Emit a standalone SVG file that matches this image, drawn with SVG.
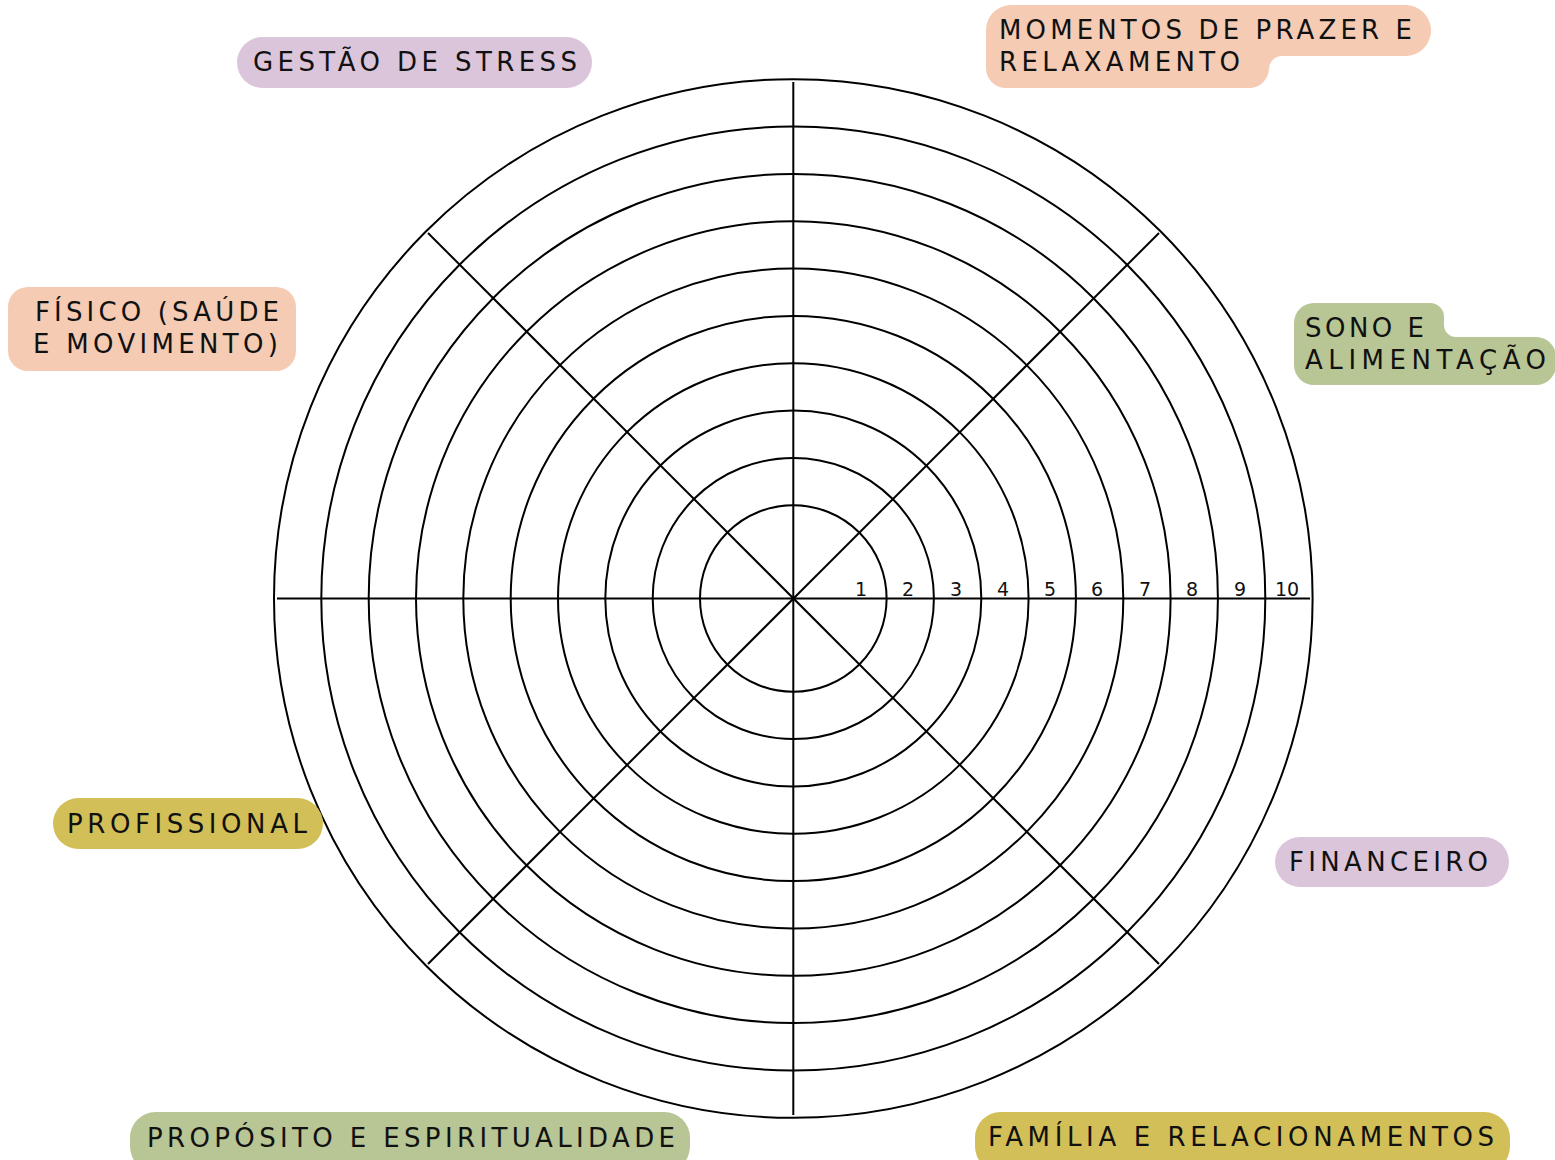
<svg xmlns="http://www.w3.org/2000/svg" width="1555" height="1160" viewBox="0 0 1555 1160">
<style>
.ring{fill:none;stroke:#000;stroke-width:2}
.spoke{stroke:#000;stroke-width:2}
.lbl{font-family:"DejaVu Sans","Noto Sans",sans-serif;font-size:26px;fill:#111;letter-spacing:3px}
.num{font-family:"DejaVu Sans","Noto Sans",sans-serif;font-size:19px;fill:#111;text-anchor:middle}
.peach{fill:#F5CBB3}
.lav{fill:#DBC5DA}
.green{fill:#B8C594}
.mustard{fill:#D3BF57}
</style>
<rect width="1555" height="1160" fill="#fff"/>
<g id="wheel">
<circle class="ring" cx="793.3" cy="598.5" r="93.3"/>
<circle class="ring" cx="793.3" cy="598.5" r="140.6"/>
<circle class="ring" cx="793.3" cy="598.5" r="188"/>
<circle class="ring" cx="793.3" cy="598.5" r="235.3"/>
<circle class="ring" cx="793.3" cy="598.5" r="282.6"/>
<circle class="ring" cx="793.3" cy="598.5" r="330"/>
<circle class="ring" cx="793.3" cy="598.5" r="377.3"/>
<circle class="ring" cx="793.3" cy="598.5" r="424.6"/>
<circle class="ring" cx="793.3" cy="598.5" r="472"/>
<circle class="ring" cx="793.3" cy="598.5" r="519.3"/>
</g>
<g id="connectors">
<line class="spoke" x1="793.3" y1="82" x2="793.3" y2="1115"/>
<line class="spoke" x1="277" y1="598.5" x2="1310" y2="598.5"/>
<line class="spoke" x1="428" y1="233" x2="1159" y2="964"/>
<line class="spoke" x1="1159" y1="233" x2="428" y2="964"/>
</g>
<g id="scale">
<text class="num" x="861" y="596">1</text>
<text class="num" x="908" y="596">2</text>
<text class="num" x="956" y="596">3</text>
<text class="num" x="1003" y="596">4</text>
<text class="num" x="1050" y="596">5</text>
<text class="num" x="1097" y="596">6</text>
<text class="num" x="1145" y="596">7</text>
<text class="num" x="1192" y="596">8</text>
<text class="num" x="1240" y="596">9</text>
<text class="num" x="1287" y="596">10</text>
</g>
<g id="gestao">
<rect class="lav" x="237" y="37" width="355" height="51" rx="25.5"/>
<text class="lbl" x="253" y="71" textLength="327" lengthAdjust="spacing">GESTÃO DE STRESS</text>
</g>
<g id="momentos">
<path class="peach" d="M1011 5 H1405.5 A25.5 25.5 0 0 1 1405.5 56 H1282 A13 13 0 0 0 1269 69 V68 A20 20 0 0 1 1249 88 H1006 A20 20 0 0 1 986 68 V30 A25 25 0 0 1 1011 5 Z"/>
<text class="lbl" x="999" y="39" textLength="416" lengthAdjust="spacing">MOMENTOS DE PRAZER E</text>
<text class="lbl" x="999" y="71" textLength="244" lengthAdjust="spacing">RELAXAMENTO</text>
</g>
<g id="fisico">
<rect class="peach" x="8" y="287" width="288" height="84" rx="20"/>
<text class="lbl" x="35" y="321" textLength="247" lengthAdjust="spacing">FÍSICO (SAÚDE</text>
<text class="lbl" x="33" y="353" textLength="248" lengthAdjust="spacing">E MOVIMENTO)</text>
</g>
<g id="sono">
<path class="green" d="M1314 303 H1430 A14 14 0 0 1 1444 317 V325 A12 12 0 0 0 1456 337 H1536 A20 20 0 0 1 1556 357 V365 A20 20 0 0 1 1536 385 H1314 A20 20 0 0 1 1294 365 V323 A20 20 0 0 1 1314 303 Z"/>
<text class="lbl" x="1305" y="337" textLength="122" lengthAdjust="spacing">SONO E</text>
<text class="lbl" x="1305" y="369" textLength="244" lengthAdjust="spacing">ALIMENTAÇÃO</text>
</g>
<g id="profissional">
<rect class="mustard" x="53" y="798" width="270" height="51" rx="25.5"/>
<text class="lbl" x="67" y="833" textLength="243" lengthAdjust="spacing">PROFISSIONAL</text>
</g>
<g id="financeiro">
<rect class="lav" x="1275" y="837" width="234" height="50" rx="25"/>
<text class="lbl" x="1289" y="871" textLength="202" lengthAdjust="spacing">FINANCEIRO</text>
</g>
<g id="proposito">
<rect class="green" x="130" y="1112" width="560" height="60" rx="25.5"/>
<text class="lbl" x="147" y="1147" textLength="531" lengthAdjust="spacing">PROPÓSITO E ESPIRITUALIDADE</text>
</g>
<g id="familia">
<rect class="mustard" x="975" y="1112" width="535" height="60" rx="25.5"/>
<text class="lbl" x="988" y="1146" textLength="509" lengthAdjust="spacing">FAMÍLIA E RELACIONAMENTOS</text>
</g>
</svg>
